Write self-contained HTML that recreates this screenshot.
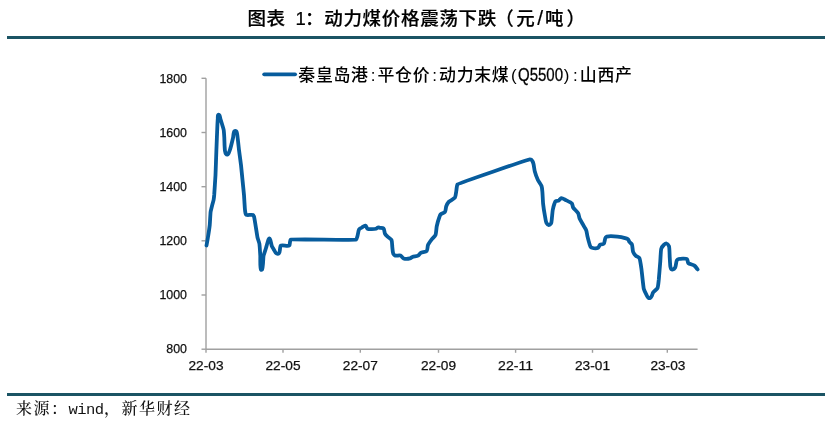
<!DOCTYPE html>
<html lang="zh-CN"><head><meta charset="utf-8"><title>图表 1</title>
<style>
html,body{margin:0;padding:0;background:#fff;}
body{width:832px;height:425px;position:relative;overflow:hidden;}
.rule{position:absolute;left:7px;width:818px;height:3px;background:#1b5464;}
.title{position:absolute;left:247.4px;top:6.6px;letter-spacing:0.7px;-webkit-text-stroke:0.2px #000;font:500 18.5px/24px "Liberation Sans","Noto Sans CJK SC",sans-serif;color:#000;white-space:nowrap;}
.legend{position:absolute;left:298.3px;top:63.5px;letter-spacing:0.7px;font:500 16.9px/24px "Liberation Sans","Noto Sans CJK SC",sans-serif;color:#000;white-space:nowrap;}
.h{display:inline-block;text-align:center;white-space:pre;letter-spacing:0;}
.title .h{width:9.6px;}
.legend .h{width:8.8px;}
.p1{position:relative;left:-1.8px;}
.p2{position:relative;left:2.2px;}
.title .sl{font-size:21px;line-height:20px;position:relative;top:0.5px;}
.q{display:inline-block;width:44px;white-space:nowrap;letter-spacing:0;}
.q span{display:inline-block;font-size:19px;line-height:20px;transform-origin:0 50%;transform:scaleX(0.79);-webkit-text-stroke:0.3px #000;position:relative;left:-0.5px;top:0.8px;}
.m{font-family:"Liberation Mono",monospace;font-size:15.5px;letter-spacing:-0.55px;margin-right:0.55px;}
.src{position:absolute;left:16px;top:397px;letter-spacing:1.5px;font:500 16px/24px "Liberation Serif","Noto Serif CJK SC",serif;color:#111;white-space:nowrap;}
</style></head><body>
<div class="rule" style="top:36px"></div>
<div class="rule" style="top:393px"></div>
<div class="title">图表<span class="h"> </span><span class="h">1</span>：动力煤价格震荡下跌<span class="p1">（</span>元<span class="h sl">/</span>吨<span class="p2">）</span></div>
<div class="legend">秦皇岛港<span class="h">:</span>平仓价<span class="h">:</span>动力末煤<span class="h">(</span><span class="q"><span>Q5500</span></span><span class="h">)</span><span class="h">:</span>山西产</div>
<div class="src">来源：<span class="m">wind</span>，新华财经</div>
<svg width="832" height="425" viewBox="0 0 832 425" style="position:absolute;left:0;top:0">
<g stroke="#a0a0a0" stroke-width="1.4" fill="none">
<line x1="206" y1="78.3" x2="206" y2="349.2"/>
<line x1="206" y1="349.2" x2="697.6" y2="349.2"/>
<line x1="201.5" y1="78.3" x2="206" y2="78.3"/>
<line x1="201.5" y1="132.5" x2="206" y2="132.5"/>
<line x1="201.5" y1="186.7" x2="206" y2="186.7"/>
<line x1="201.5" y1="240.8" x2="206" y2="240.8"/>
<line x1="201.5" y1="295.0" x2="206" y2="295.0"/>
<line x1="201.5" y1="349.2" x2="206" y2="349.2"/>
<line x1="206" y1="349.2" x2="206" y2="352.8"/>
<line x1="283" y1="349.2" x2="283" y2="352.8"/>
<line x1="360.3" y1="349.2" x2="360.3" y2="352.8"/>
<line x1="438.5" y1="349.2" x2="438.5" y2="352.8"/>
<line x1="515.6" y1="349.2" x2="515.6" y2="352.8"/>
<line x1="592.5" y1="349.2" x2="592.5" y2="352.8"/>
<line x1="667.3" y1="349.2" x2="667.3" y2="352.8"/>
</g>
<g font-family="'Liberation Sans', sans-serif" font-size="13.3" fill="#111" stroke="#111" stroke-width="0.25">
<text x="159.4" y="82.5" textLength="27.6" lengthAdjust="spacingAndGlyphs">1800</text>
<text x="159.4" y="136.7" textLength="27.6" lengthAdjust="spacingAndGlyphs">1600</text>
<text x="159.4" y="190.9" textLength="27.6" lengthAdjust="spacingAndGlyphs">1400</text>
<text x="159.4" y="245.0" textLength="27.6" lengthAdjust="spacingAndGlyphs">1200</text>
<text x="159.4" y="299.2" textLength="27.6" lengthAdjust="spacingAndGlyphs">1000</text>
<text x="166.3" y="353.4" textLength="20.7" lengthAdjust="spacingAndGlyphs">800</text>
<text x="188.5" y="370" textLength="35" lengthAdjust="spacingAndGlyphs">22-03</text>
<text x="265.5" y="370" textLength="35" lengthAdjust="spacingAndGlyphs">22-05</text>
<text x="342.8" y="370" textLength="35" lengthAdjust="spacingAndGlyphs">22-07</text>
<text x="421.0" y="370" textLength="35" lengthAdjust="spacingAndGlyphs">22-09</text>
<text x="498.1" y="370" textLength="35" lengthAdjust="spacingAndGlyphs">22-11</text>
<text x="575.0" y="370" textLength="35" lengthAdjust="spacingAndGlyphs">23-01</text>
<text x="650.4" y="370" textLength="35" lengthAdjust="spacingAndGlyphs">23-03</text>
</g>
<line x1="264.2" y1="74.3" x2="295.1" y2="74.3" stroke="#075c9d" stroke-width="3.8" stroke-linecap="round"/>
<path d="M206.50 245.50C206.74 244.19 207.28 241.32 207.50 240.00C207.72 238.68 209.61 226.33 209.75 225.00C209.89 223.67 210.40 213.32 210.60 212.00C210.80 210.68 212.17 205.29 212.50 204.00C212.77 202.93 213.39 201.09 213.60 200.00C213.86 198.69 214.08 196.33 214.20 195.00C214.32 193.67 215.43 176.33 215.50 175.00C215.57 173.67 216.35 151.33 216.40 150.00C216.45 148.67 217.33 126.33 217.40 125.00C217.47 123.67 217.68 119.83 217.80 118.50C217.88 117.56 217.50 115.63 218.20 115.00C218.40 114.82 218.99 114.84 219.20 115.00C219.99 115.58 220.01 117.57 220.30 118.50C220.70 119.77 221.92 123.72 222.30 125.00C222.68 126.28 223.47 128.69 223.70 130.00C223.93 131.31 224.22 136.17 224.30 137.50C224.38 138.83 224.52 144.67 224.60 146.00C224.68 147.33 224.75 149.69 225.00 151.00C225.15 151.80 225.39 153.27 225.90 153.90C226.17 154.24 226.88 154.77 227.30 154.70C227.82 154.61 228.32 153.65 228.60 153.20C229.08 152.41 229.61 150.87 229.90 150.00C230.32 148.73 232.80 138.80 233.10 137.50C233.40 136.20 233.36 132.14 234.40 131.30C234.77 131.00 235.83 131.00 236.20 131.30C237.24 132.13 237.38 136.19 237.60 137.50C237.82 138.81 238.84 148.68 239.00 150.00C239.16 151.32 240.85 163.68 241.00 165.00C241.15 166.32 242.37 178.67 242.50 180.00C242.63 181.33 243.89 193.67 244.00 195.00C244.11 196.33 244.41 201.67 244.50 203.00C244.59 204.33 244.81 208.68 245.00 210.00C245.18 211.22 245.24 213.53 246.00 214.50C246.18 214.73 246.71 214.93 247.00 215.00C248.30 215.31 251.82 214.37 253.00 215.00C253.42 215.23 253.82 216.05 254.00 216.50C254.49 217.74 257.20 236.20 257.50 237.50C257.80 238.80 259.16 242.44 259.40 243.75C259.64 245.06 260.22 254.67 260.30 256.00C260.38 257.33 259.94 268.68 260.90 269.60C261.13 269.82 261.86 269.81 262.10 269.60C263.09 268.71 263.23 257.31 263.50 256.00C263.77 254.69 265.61 249.28 266.00 248.00C266.39 246.72 267.90 240.69 268.50 239.50C268.68 239.14 269.00 238.27 269.40 238.30C269.91 238.34 270.12 239.52 270.30 240.00C270.78 241.24 271.39 245.02 271.90 246.25C272.22 247.04 273.05 248.28 273.50 249.00C274.20 250.13 275.21 252.79 276.40 253.40C277.02 253.72 278.47 253.74 279.00 253.30C279.91 252.55 279.73 250.15 280.00 249.00C280.21 248.09 280.07 246.18 280.80 245.60C281.85 244.77 288.16 246.43 289.20 245.60C289.97 244.98 289.74 242.95 290.00 242.00C290.18 241.35 290.25 239.99 290.80 239.60C291.88 238.82 354.89 240.34 356.00 239.60C356.87 239.02 357.18 236.99 357.50 236.00C357.91 234.73 358.33 230.49 359.10 229.40C359.63 228.64 361.21 227.98 362.00 227.50C362.89 226.96 364.39 225.36 365.40 225.60C366.38 225.84 366.61 228.27 367.50 228.75C368.68 229.38 374.72 229.13 376.00 228.75C376.58 228.58 377.31 227.63 377.90 227.50C378.45 227.38 379.44 227.70 380.00 227.80C380.94 227.96 382.80 227.85 383.50 228.50C384.48 229.40 384.35 232.59 385.00 233.75C385.58 234.78 387.15 236.18 388.00 237.00C388.89 237.85 390.92 238.91 391.50 240.00C392.13 241.18 392.13 245.68 392.30 247.00C392.47 248.32 392.66 252.28 393.20 253.50C393.49 254.14 394.27 255.20 394.90 255.50C396.11 256.07 399.26 255.11 400.50 255.60C401.54 256.01 402.56 258.00 403.60 258.40C404.84 258.88 408.62 258.76 409.90 258.40C410.65 258.19 411.68 257.19 412.40 256.90C413.64 256.40 416.83 256.24 418.00 255.60C418.90 255.11 419.87 253.44 420.75 252.90C421.89 252.20 425.86 251.89 426.75 250.90C427.64 249.91 427.48 246.23 428.00 245.00C428.52 243.77 430.95 240.46 431.75 239.40C432.55 238.34 434.95 236.22 435.50 235.00C436.05 233.78 436.47 227.55 436.75 226.25C437.03 224.95 438.94 218.25 439.40 217.00C439.67 216.28 440.08 214.96 440.60 214.40C441.50 213.42 444.21 212.97 445.00 211.90C445.79 210.83 445.77 207.49 446.25 206.25C446.73 205.01 447.85 202.89 448.75 201.90C449.65 200.91 454.27 198.62 455.00 197.50C455.73 196.38 456.04 192.31 456.30 191.00C456.56 189.69 456.73 185.31 457.60 184.30C458.47 183.29 528.47 159.38 529.80 159.30C530.18 159.28 530.88 159.40 531.20 159.60C531.68 159.91 532.22 160.80 532.50 161.30C532.87 161.97 533.30 163.26 533.50 164.00C533.85 165.29 534.41 169.96 534.75 171.25C535.09 172.54 537.33 178.79 537.90 180.00C538.47 181.21 541.16 184.99 541.60 186.25C542.04 187.51 542.27 190.67 542.40 192.00C542.53 193.33 542.96 202.42 543.10 203.75C543.24 205.08 544.76 214.94 545.00 216.25C545.24 217.56 545.82 221.85 546.50 223.00C546.91 223.69 547.95 224.94 548.75 225.00C549.47 225.05 550.61 224.11 551.00 223.50C551.72 222.38 551.72 219.32 551.90 218.00C552.08 216.68 552.51 211.31 552.75 210.00C552.99 208.69 553.94 205.00 554.40 203.75C554.66 203.06 555.02 201.71 555.60 201.25C556.28 200.72 558.00 201.01 558.75 200.60C559.58 200.15 560.32 198.28 561.25 198.10C562.49 197.86 564.47 199.44 565.60 200.00C566.80 200.59 571.06 202.46 571.90 203.50C572.60 204.37 572.56 206.53 573.10 207.50C573.75 208.66 577.46 211.93 578.10 213.10C578.74 214.27 579.10 217.27 579.60 218.50C580.10 219.73 581.85 222.59 582.50 223.75C583.15 224.91 585.78 229.05 586.25 230.30C586.72 231.55 587.18 235.21 587.50 236.50C587.82 237.79 589.80 245.83 590.60 246.90C590.85 247.23 591.50 247.63 591.90 247.75C593.18 248.13 596.93 248.39 598.10 247.75C598.93 247.29 599.24 245.31 600.00 244.75C600.83 244.14 603.01 244.47 603.75 243.75C604.71 242.82 604.82 238.58 605.60 237.50C605.85 237.16 606.50 236.73 606.90 236.60C608.17 236.20 616.17 236.47 617.50 236.60C618.83 236.73 623.73 237.71 625.00 238.10C625.86 238.36 627.44 238.79 628.10 239.40C628.65 239.91 628.96 241.29 629.40 241.90C629.96 242.66 631.47 243.56 631.90 244.40C632.51 245.59 632.61 250.66 633.10 251.90C633.54 253.01 634.75 254.76 635.60 255.60C636.46 256.45 638.73 257.09 639.40 258.10C640.14 259.21 641.30 268.18 641.50 269.50C641.70 270.82 643.40 287.46 643.75 288.75C644.10 290.04 645.63 293.22 646.25 294.40C646.76 295.37 647.44 297.37 648.40 297.90C648.87 298.16 649.93 298.15 650.40 297.90C651.04 297.55 651.57 296.25 651.90 295.60C652.30 294.81 652.62 293.24 653.10 292.50C653.83 291.38 656.90 289.29 657.50 288.10C658.10 286.91 658.59 281.32 658.75 280.00C658.91 278.68 660.19 262.58 660.30 261.25C660.41 259.92 660.82 250.01 661.25 248.75C661.64 247.61 662.86 245.81 663.75 245.00C664.37 244.44 665.68 243.36 666.50 243.50C667.48 243.66 668.61 245.34 669.00 246.25C669.52 247.48 669.61 255.67 669.70 257.00C669.79 258.33 670.12 265.50 670.40 266.80C670.53 267.41 670.74 268.57 671.20 269.00C671.54 269.32 672.44 269.60 672.90 269.50C673.69 269.33 674.78 268.20 675.20 267.50C675.89 266.36 676.15 261.40 676.90 260.30C677.24 259.80 678.18 259.18 678.75 259.00C680.02 258.60 685.82 258.22 686.90 259.00C687.84 259.67 687.51 262.26 688.30 263.10C689.21 264.07 693.32 264.81 694.40 265.60C695.47 266.38 696.75 268.39 697.60 269.40" fill="none" stroke="#075c9d" stroke-width="3.8" stroke-linejoin="round" stroke-linecap="round"/>
</svg>
</body></html>
